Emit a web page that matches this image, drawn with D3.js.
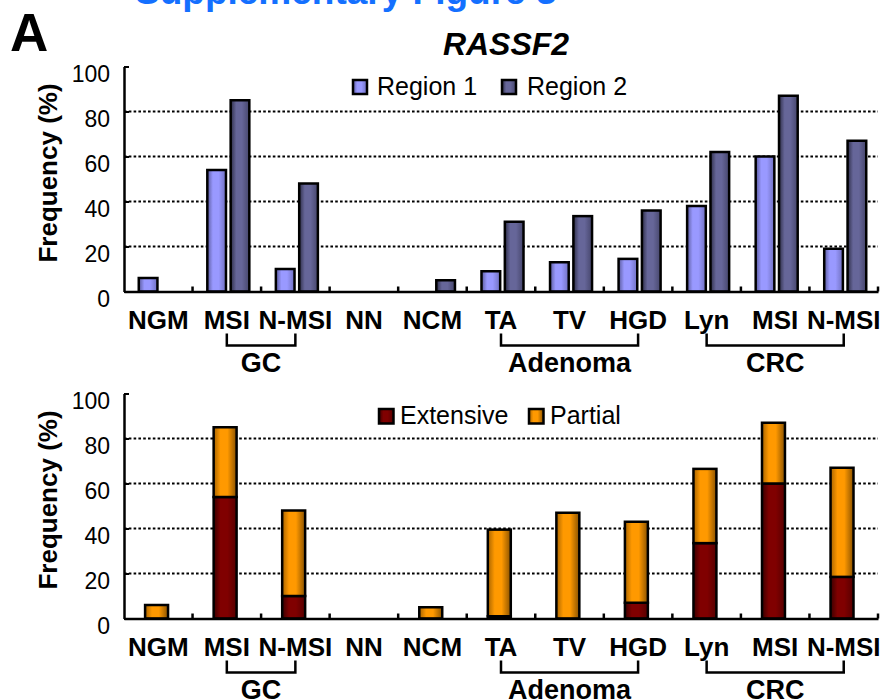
<!DOCTYPE html>
<html>
<head>
<meta charset="utf-8">
<script src="https://cdn.jsdelivr.net/npm/d3@7"></script>
<style>
  html, body { margin: 0; padding: 0; background: #fff; }
  svg { display: block; font-family: Arial, "Liberation Sans", sans-serif; }
</style>
</head>
<body>
<svg id="chart" width="886" height="700"></svg>
<script>
// ---- data ----
const categories = ["NGM", "MSI", "N-MSI", "NN", "NCM", "TA", "TV", "HGD", "Lyn", "MSI", "N-MSI"];
const groups = [
  { label: "GC", first: 1, last: 2 },
  { label: "Adenoma", first: 5, last: 7 },
  { label: "CRC", first: 8, last: 10 }
];
const regionNames = ["Region 1", "Region 2"];
const region1 = [6, 54, 10, 0, 0, 9, 13, 14.5, 38, 60, 19];
const region2 = [0, 85, 48, 0, 5, 31, 33.5, 36, 62, 87, 67];
const patternNames = ["Extensive", "Partial"];
const extensive = [0, 54, 10, 0, 0, 1, 0, 7, 33.5, 60, 18.5];
const partial = [6, 31, 38, 0, 5, 38.5, 47, 36, 33, 27, 48.5];
const yTicks = [0, 20, 40, 60, 80, 100];

// ---- layout & style ----
const svg = d3.select("#chart");
const idx = d3.range(categories.length);
const plotLeft = 124, plotRight = 878;
const colors = {
  "Region 1": ["#5a5a9c", "#9999ff", "#9999ff", "#7070c0"],
  "Region 2": ["#2e2e48", "#666699", "#666699", "#46466c"],
  "Extensive": ["#3a0000", "#800000", "#800000", "#560000"],
  "Partial": ["#a86400", "#ff9900", "#ff9900", "#8a5200"]
};

const defs = svg.append("defs");
Object.entries(colors).forEach(([name, c], k) => {
  const gr = defs.append("linearGradient").attr("id", "grad" + k)
    .attr("x1", 0).attr("x2", 1).attr("y1", 0).attr("y2", 0);
  [0, 0.3, 0.6, 1].forEach((o, j) => gr.append("stop").attr("offset", o).attr("stop-color", c[j]));
  colors[name].id = "url(#grad" + k + ")";
});

const x = d3.scaleBand().domain(idx).range([plotLeft, plotRight]).padding(0);
const xc = i => x(i) + x.bandwidth() / 2;

// title block
svg.append("text").attr("x", 135).attr("y", 4)
  .attr("font-size", 37).attr("font-weight", "bold").attr("fill", "#1470ff")
  .text("Supplementary Figure 3");
svg.append("text").attr("x", 10).attr("y", 51)
  .attr("font-size", 53).attr("font-weight", "bold").text("A");
svg.append("text").attr("x", 506).attr("y", 55).attr("text-anchor", "middle")
  .attr("font-size", 32).attr("font-weight", "bold").attr("font-style", "italic").text("RASSF2");

function panel(base, legendItems) {
  const y = d3.scaleLinear().domain([0, 100]).range([base, base - 225]);
  const g = svg.append("g");

  // dotted gridlines
  g.append("g").selectAll("line")
    .data(yTicks.filter(t => t > 0 && t < 100)).join("line")
    .attr("x1", plotLeft).attr("x2", plotRight)
    .attr("y1", d => y(d)).attr("y2", d => y(d))
    .attr("stroke", "#000").attr("stroke-width", 2).attr("stroke-dasharray", "2.6,2.2");

  // y axis
  const ya = g.append("g").attr("transform", `translate(${plotLeft},0)`)
    .call(d3.axisLeft(y).tickValues(yTicks).tickSize(-5).tickSizeOuter(0).tickPadding(14));
  ya.select(".domain").attr("stroke-width", 2.5);
  ya.selectAll(".tick line").attr("stroke-width", 2);
  ya.selectAll(".tick text").attr("font-size", 23).attr("font-family", null)
    .attr("fill", "#000").attr("dy", "0.32em").attr("transform", "translate(0,7.5)");

  // y title
  g.append("text").attr("transform", `translate(57,${base - 118.5}) rotate(-90)`)
    .attr("text-anchor", "middle").attr("font-size", 26).attr("font-weight", "bold")
    .text("Frequency (%)");

  // legend
  const lg = g.append("g");
  legendItems.forEach(it => {
    lg.append("rect").attr("x", it.sx).attr("y", it.sy).attr("width", it.s).attr("height", it.s)
      .attr("fill", colors[it.name].id).attr("stroke", "#000").attr("stroke-width", 2.5);
    lg.append("text").attr("x", it.tx).attr("y", it.ty).attr("font-size", 25).text(it.name);
  });
  return { g, y };
}

function xAxis(g, y) {
  const base = y(0);
  const xa = g.append("g").attr("transform", `translate(0,${base})`)
    .call(d3.axisBottom(x).tickSize(0).tickSizeOuter(0).tickFormat(i => categories[i]));
  xa.select(".domain").attr("stroke-width", 2.5);
  xa.selectAll(".tick text").attr("font-size", 26).attr("font-weight", "bold")
    .attr("font-family", null).attr("fill", "#000").attr("y", 37.5).attr("dy", null);
  // boundary ticks between categories
  const bounds = idx.map(i => x(i)).concat([plotRight]).slice(1);
  g.append("g").selectAll("line").data(bounds).join("line")
    .attr("x1", d => d).attr("x2", d => d).attr("y1", base).attr("y2", base - 5)
    .attr("stroke", "#000").attr("stroke-width", 2.5);
  // group brackets
  const gb = g.append("g");
  groups.forEach(gr => {
    gb.append("path")
      .attr("d", `M${xc(gr.first)},${base + 42}V${base + 54}H${xc(gr.last)}V${base + 42}`)
      .attr("fill", "none").attr("stroke", "#000").attr("stroke-width", 2.5);
    gb.append("text").attr("x", (xc(gr.first) + xc(gr.last)) / 2).attr("y", base + 80.5)
      .attr("text-anchor", "middle").attr("font-size", 27).attr("font-weight", "bold").text(gr.label);
  });
}

// ---- upper panel: clustered bars ----
{
  const { g, y } = panel(291.5, [
    { name: "Region 1", sx: 353, sy: 80, s: 14, tx: 377, ty: 95 },
    { name: "Region 2", sx: 502, sy: 80, s: 14, tx: 527, ty: 95 }
  ]);
  const xg = d3.scaleBand().domain(idx).range([plotLeft + 1.5, plotRight + 1.5])
    .paddingInner(0.387).paddingOuter(0.1935);
  const x1 = d3.scaleBand().domain(regionNames).range([0, xg.bandwidth()]).paddingInner(0.2);
  const series = [region1, region2];
  const bars = [];
  series.forEach((vals, s) => vals.forEach((v, i) => { if (v > 0) bars.push({ i, s, v }); }));
  g.append("g").selectAll("rect").data(bars).join("rect")
    .attr("x", d => xg(d.i) + x1(regionNames[d.s]))
    .attr("width", x1.bandwidth())
    .attr("y", d => y(d.v)).attr("height", d => y(0) - y(d.v))
    .attr("fill", d => colors[regionNames[d.s]].id)
    .attr("stroke", "#000").attr("stroke-width", 2.5);
  xAxis(g, y);
}

// ---- lower panel: stacked bars ----
{
  const { g, y } = panel(618.5, [
    { name: "Extensive", sx: 379, sy: 409, s: 14.5, tx: 400, ty: 423.5 },
    { name: "Partial", sx: 529, sy: 409, s: 14.5, tx: 550, ty: 423.5 }
  ]);
  const xb = d3.scaleBand().domain(idx).range([plotLeft - 1.7, plotRight - 1.7])
    .paddingInner(0.665).paddingOuter(0.3325);
  const rows = idx.map(i => ({ Extensive: extensive[i], Partial: partial[i] }));
  const stacked = d3.stack().keys(patternNames)(rows);
  const segs = [];
  stacked.forEach(layer => layer.forEach((d, i) => {
    if (d[1] - d[0] > 0) segs.push({ key: layer.key, i, y0: d[0], y1: d[1] });
  }));
  g.append("g").selectAll("rect").data(segs).join("rect")
    .attr("x", d => xb(d.i)).attr("width", xb.bandwidth())
    .attr("y", d => y(d.y1)).attr("height", d => y(d.y0) - y(d.y1))
    .attr("fill", d => colors[d.key].id)
    .attr("stroke", "#000").attr("stroke-width", 2.5);
  xAxis(g, y);
}
</script>
</body>
</html>
